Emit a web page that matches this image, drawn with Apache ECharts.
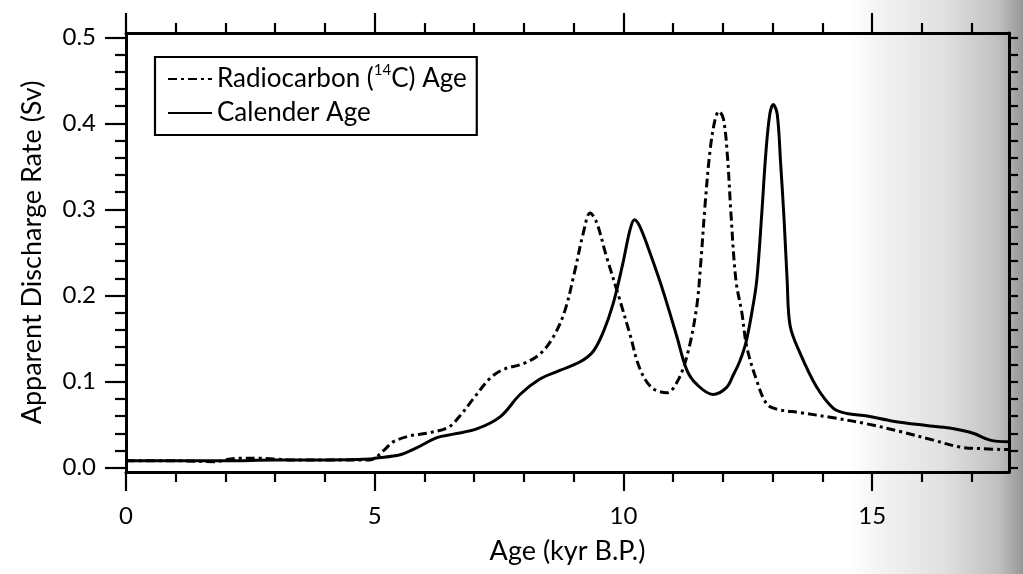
<!DOCTYPE html>
<html>
<head>
<meta charset="utf-8">
<script src="https://cdn.jsdelivr.net/npm/echarts@6/dist/echarts.min.js"></script>
<style>
html,body{margin:0;padding:0;background:#fff;}
#chart{width:1023px;height:574px;}
</style>
</head>
<body>
<div id="chart"></div>
<script>
// Radiocarbon (14C) age curve (dash-dot)
const radiocarbonAge = [0, 1.0, 1.8, 2.1, 2.3, 2.7, 3.0, 3.3, 4.0, 4.9, 5.0, 5.2, 5.37, 5.71, 6.04, 6.48, 6.71, 6.98, 7.32, 7.58, 7.99, 8.32, 8.59, 8.82, 9.02, 9.19, 9.33, 9.46, 9.66, 9.90, 10.13, 10.33, 10.57, 10.87, 11.10, 11.30, 11.47, 11.55, 11.64, 11.74, 11.84, 11.92, 12.01, 12.09, 12.16, 12.26, 12.38, 12.48, 12.68, 12.88, 13.08, 13.55, 14.22, 14.89, 15.56, 16.23, 16.76, 17.23, 17.75];
const radiocarbonRate = [0.008, 0.008, 0.007, 0.010, 0.011, 0.011, 0.010, 0.009, 0.009, 0.009, 0.011, 0.021, 0.030, 0.037, 0.040, 0.047, 0.060, 0.080, 0.104, 0.114, 0.121, 0.132, 0.152, 0.182, 0.228, 0.272, 0.296, 0.285, 0.245, 0.200, 0.155, 0.115, 0.093, 0.087, 0.102, 0.135, 0.186, 0.235, 0.305, 0.368, 0.404, 0.414, 0.405, 0.362, 0.296, 0.218, 0.180, 0.140, 0.101, 0.074, 0.068, 0.064, 0.058, 0.051, 0.042, 0.032, 0.024, 0.022, 0.021];

// Calender age curve (solid)
const calenderAge = [0, 1, 2, 3, 4, 4.9, 5.0, 5.51, 5.84, 6.25, 6.58, 7.05, 7.52, 7.92, 8.32, 8.72, 9.13, 9.39, 9.59, 9.79, 9.99, 10.13, 10.22, 10.33, 10.53, 10.70, 10.83, 11.07, 11.27, 11.47, 11.80, 12.07, 12.21, 12.34, 12.46, 12.58, 12.68, 12.78, 12.86, 12.94, 13.01, 13.09, 13.16, 13.23, 13.29, 13.35, 13.55, 13.88, 14.22, 14.49, 14.90, 15.42, 16.09, 16.56, 17.03, 17.37, 17.75];
const calenderRate = [0.008, 0.008, 0.008, 0.009, 0.009, 0.010, 0.011, 0.015, 0.023, 0.035, 0.039, 0.045, 0.059, 0.085, 0.103, 0.113, 0.123, 0.135, 0.157, 0.190, 0.238, 0.276, 0.288, 0.280, 0.250, 0.222, 0.199, 0.153, 0.114, 0.097, 0.085, 0.093, 0.108, 0.124, 0.145, 0.180, 0.218, 0.295, 0.364, 0.410, 0.422, 0.411, 0.353, 0.287, 0.218, 0.165, 0.133, 0.094, 0.069, 0.063, 0.060, 0.054, 0.049, 0.046, 0.040, 0.032, 0.030];

// Tick definitions
const xMajorTicks = [0, 5, 10, 15];
const xMinorTicks = [1, 2, 3, 4, 6, 7, 8, 9, 11, 12, 13, 14, 16, 17];
const yMajorTicks = [0.0, 0.1, 0.2, 0.3, 0.4, 0.5];
const yMinorTicks = [0.02, 0.04, 0.06, 0.08, 0.12, 0.14, 0.16, 0.18, 0.22, 0.24, 0.26, 0.28, 0.32, 0.34, 0.36, 0.38, 0.42, 0.44, 0.46, 0.48];
const yAllTicks = [0.0, 0.02, 0.04, 0.06, 0.08, 0.1, 0.12, 0.14, 0.16, 0.18, 0.2, 0.22, 0.24, 0.26, 0.28, 0.3, 0.32, 0.34, 0.36, 0.38, 0.4, 0.42, 0.44, 0.46, 0.48, 0.5];

const X_MIN = 0, X_MAX = 17.75, Y_MIN = -0.005, Y_MAX = 0.505;
const FONT = 'Lato, "Open Sans", sans-serif';

const chart = echarts.init(document.getElementById('chart'), null, {renderer: 'canvas'});

function xAx(pos, ticks, len, withLine, withLabels) {
  return {
    type: 'value', position: pos, min: X_MIN, max: X_MAX, gridIndex: 0,
    axisLine: {show: withLine, onZero: false, lineStyle: {color: '#000', width: 3}},
    axisTick: {show: true, inside: false, length: len, customValues: ticks, lineStyle: {color: '#000', width: 2.2}},
    axisLabel: withLabels ? {show: true, customValues: xMajorTicks, margin: 32, color: '#000', fontSize: 24, fontFamily: FONT, formatter: v => String(Math.round(v))} : {show: false},
    splitLine: {show: false},
    name: withLabels ? 'Age (kyr B.P.)' : '',
    nameLocation: 'middle', nameGap: 66,
    nameTextStyle: {color: '#000', fontSize: 27, fontFamily: FONT}
  };
}
function yAx(pos, ticks, len, withLine, withLabels) {
  return {
    type: 'value', position: pos, min: Y_MIN, max: Y_MAX, gridIndex: 0,
    axisLine: {show: withLine, onZero: false, lineStyle: {color: '#000', width: 3}},
    axisTick: {show: true, inside: false, length: len, customValues: ticks, lineStyle: {color: '#000', width: 2.2}},
    axisLabel: withLabels ? {show: true, customValues: yMajorTicks, margin: 30, color: '#000', fontSize: 24, fontFamily: FONT, formatter: v => v.toFixed(1)} : {show: false},
    splitLine: {show: false},
    name: withLabels ? 'Apparent Discharge Rate (Sv)' : '',
    nameLocation: 'middle', nameGap: 80, nameRotate: 90,
    nameTextStyle: {color: '#000', fontSize: 27, fontFamily: FONT}
  };
}

const option = {
  backgroundColor: '#fff',
  animation: false,
  graphic: [{
    type: 'rect', z: -10, silent: true,
    shape: {x: 850, y: 0, width: 173, height: 574},
    style: {
      fill: new echarts.graphic.LinearGradient(0, 0, 1, 0, [
        {offset: 0, color: 'rgba(120,120,120,0)'},
        {offset: 0.2, color: 'rgba(120,120,120,0.1)'},
        {offset: 0.55, color: 'rgba(110,110,110,0.22)'},
        {offset: 0.85, color: 'rgba(100,100,100,0.4)'},
        {offset: 1, color: 'rgba(80,80,80,0.6)'}
      ])
    }
  }],
  grid: {left: 126, right: 14, top: 33, bottom: 102, containLabel: false, outerBoundsMode: 'none'},
  legend: {
    left: 155, top: 57, orient: 'vertical',
    padding: [6, 10, 6, 12], itemGap: 2, itemWidth: 44, itemHeight: 14,
    borderColor: '#000', borderWidth: 2.2, backgroundColor: '#fff',
    data: ['Radiocarbon', 'Calender Age'],
    itemStyle: {color: 'rgba(0,0,0,0)', borderColor: 'rgba(0,0,0,0)', borderWidth: 0},
    formatter: name => name === 'Radiocarbon' ? 'Radiocarbon ({sup|14}C) Age' : name,
    textStyle: {
      color: '#000', fontSize: 26, fontFamily: FONT, lineHeight: 32,
      rich: {sup: {fontSize: 15, fontFamily: FONT, color: '#000', verticalAlign: 'top', lineHeight: 26}}
    }
  },
  xAxis: [
    xAx('bottom', xMajorTicks, 19, true, true),
    xAx('bottom', xMinorTicks, 10, false, false),
    xAx('top', xMajorTicks, 20, true, false),
    xAx('top', xMinorTicks, 10, false, false)
  ],
  yAxis: [
    yAx('left', yMajorTicks, 21, true, true),
    yAx('left', yMinorTicks, 11, false, false),
    yAx('right', yAllTicks, 9, true, false)
  ],
  series: [
    {
      name: 'Radiocarbon', type: 'line', xAxisIndex: 0, yAxisIndex: 0,
      data: radiocarbonAge.map((t, i) => [t, radiocarbonRate[i]]),
      symbol: 'none', smooth: 0.35,
      lineStyle: {color: '#000', width: 3, type: [9, 4, 3, 4]},
      itemStyle: {color: '#000'}, z: 3
    },
    {
      name: 'Calender Age', type: 'line', xAxisIndex: 0, yAxisIndex: 0,
      data: calenderAge.map((t, i) => [t, calenderRate[i]]),
      symbol: 'none', smooth: 0.35,
      lineStyle: {color: '#000', width: 3, type: 'solid'},
      itemStyle: {color: '#000'}, z: 3
    }
  ]
};
chart.setOption(option);
</script>
</body>
</html>
